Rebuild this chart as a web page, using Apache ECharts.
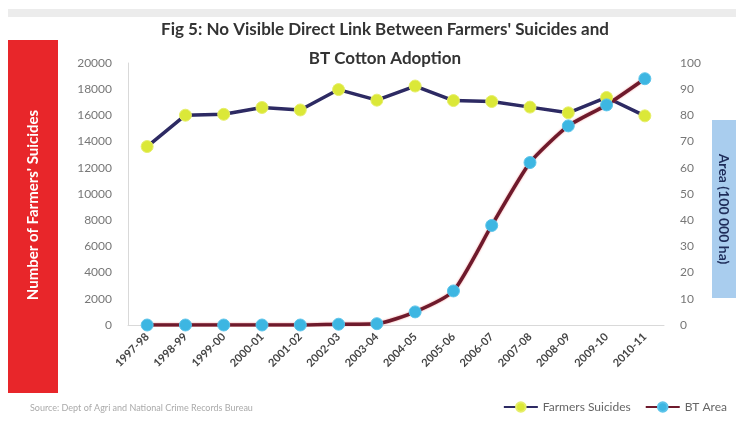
<!DOCTYPE html>
<html><head><meta charset="utf-8">
<script src="https://cdn.jsdelivr.net/npm/echarts@6/dist/echarts.min.js"></script>
<style>html,body{margin:0;padding:0;background:#fff}#c{width:736px;height:424px}</style>
</head><body><div id="c"></div>
<script>
const categories = ['1997-98','1998-99','1999-00','2000-01','2001-02','2002-03','2003-04','2004-05','2005-06','2006-07','2007-08','2008-09','2009-10','2010-11'];
const farmersSuicides = [13622,16015,16082,16603,16415,17971,17164,18241,17131,17060,16632,16196,17368,15964];
const btArea = [0,0,0,0,0,0.3,0.5,5,13,38,62,76,84,94];
const leftTicks = {min:0, max:20000, interval:2000};
const rightTicks = {min:0, max:100, interval:10};

const chart = echarts.init(document.getElementById('c'));
const font = 'Lato, "Open Sans", sans-serif';
chart.setOption({
  animation:false,
  textStyle:{fontFamily:font},
  title:{
    text:"Fig 5: No Visible Direct Link Between Farmers' Suicides and\nBT Cotton Adoption",
    left:380, top:10, textAlign:'center',
    textStyle:{fontSize:17, fontWeight:'bold', color:'#333', lineHeight:29, fontFamily:font}
  },
  grid:{left:128, right:72, top:63, bottom:99},
  legend:{
    right:4, bottom:6, itemWidth:34, itemHeight:12, itemGap:14,
    textStyle:{fontSize:12, color:'#666', fontFamily:font},
    data:['Farmers Suicides','BT Area']
  },
  xAxis:{
    type:'category', data:categories, boundaryGap:true,
    axisLine:{lineStyle:{color:'#d9d9d9'}},
    axisTick:{show:false},
    axisLabel:{rotate:45, fontSize:11, fontWeight:'bold', color:'#444', margin:10, interval:0}
  },
  yAxis:[
    {type:'value', min:leftTicks.min, max:leftTicks.max, interval:leftTicks.interval,
     axisLine:{show:true, lineStyle:{color:'#d9d9d9'}}, axisTick:{show:false}, splitLine:{show:false},
     axisLabel:{fontSize:12, color:'#777', margin:16, formatter:(v)=>String(v)}},
    {type:'value', min:rightTicks.min, max:rightTicks.max, interval:rightTicks.interval,
     axisLine:{show:false}, axisTick:{show:false}, splitLine:{show:false},
     axisLabel:{fontSize:12, color:'#777', margin:16}}
  ],
  series:[
    {name:'Farmers Suicides', type:'line', yAxisIndex:0, data:farmersSuicides,
     symbol:'circle', symbolSize:12,
     lineStyle:{color:'#2d2a63', width:3.5},
     itemStyle:{color:'#dbe838', borderColor:'#e6ee6a', borderWidth:1}},
    {name:'BT Area', type:'line', yAxisIndex:1, data:btArea, smooth:0.2,
     symbol:'circle', symbolSize:12,
     lineStyle:{color:'#6e1a2c', width:3.5, shadowColor:'rgba(230,60,60,0.6)', shadowBlur:2},
     itemStyle:{color:'#3db6e2', borderColor:'#5cc4ea', borderWidth:1}, z:3}
  ],
  graphic:[
    {type:'rect', shape:{x:8, y:40, width:50, height:353}, style:{fill:'#e8262a'}, z:-1},
    {type:'text', x:33, y:205, rotation:Math.PI/2, style:{text:"Number of Farmers' Suicides", fill:'#fff', font:'bold 15px '+font, align:'center', verticalAlign:'middle'}},
    {type:'rect', shape:{x:712, y:120, width:24, height:178}, style:{fill:'#a9cdee'}, z:-1},
    {type:'text', x:724, y:209, rotation:-Math.PI/2, style:{text:'Area (100 000 ha)', fill:'#1f2d5a', font:'bold 14px '+font, align:'center', verticalAlign:'middle'}},
    {type:'text', x:30, y:404, style:{text:'Source: Dept of Agri and National Crime Records Bureau', fill:'#aaa', font:'9px '+font}},
    {type:'rect', shape:{x:8, y:9, width:728, height:8}, style:{fill:'#ececec'}, z:-2}
  ]
});
</script></body></html>
